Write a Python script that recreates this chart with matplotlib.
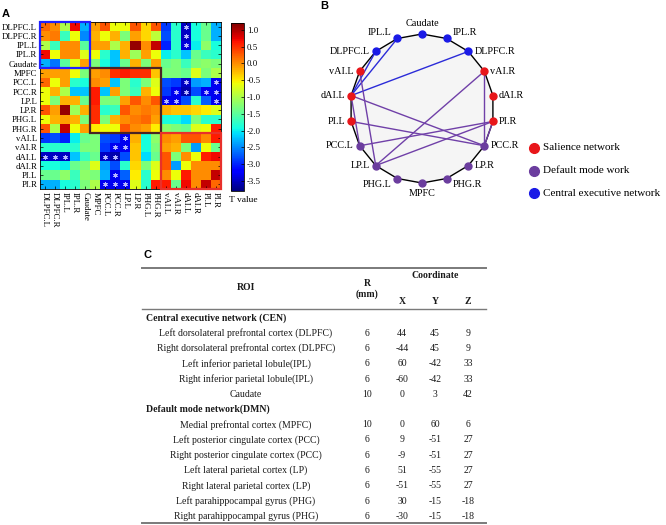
#!/usr/bin/env python3
"""
Rebuild of the three-panel ROI figure:
  A - T-value matrix between 18 ROIs (jet colormap, starred cells significant)
  B - circular graph of the significant connections
  C - table of ROI radius and MNI coordinates
Output: out.png (666x525)
"""

import numpy as np
import matplotlib.pyplot as plt
from matplotlib.patches import Rectangle, Polygon

W, H = 666, 525
SERIF = "Liberation Serif"
SANS = "Liberation Sans"

ROIS = [
    "DLPFC.L", "DLPFC.R", "IPL.L", "IPL.R", "Caudate",
    "MPFC", "PCC.L", "PCC.R", "LP.L", "LP.R", "PHG.L", "PHG.R",
    "vAI.L", "vAI.R", "dAI.L", "dAI.R", "PI.L", "PI.R",
]

T_VALUES = [
    [0.2, 0.0, -1.0, 0.7, -2.3, -0.1, 0.3, -0.6, -0.6, 0.3, -0.4, 0.3, -2.9, -1.8, -3.5, -1.9, -1.4, -2.3],
    [0.0, 0.1, -1.7, -0.6, -2.5, -0.2, -0.6, -0.2, -1.3, -0.1, -0.4, -0.9, -2.8, -1.8, -3.5, -1.9, -1.4, -2.3],
    [-1.0, -1.7, 0.0, 0.0, -1.5, -0.1, -0.1, -1.0, -0.2, 1.1, 0.0, 0.9, -3.0, -1.8, -3.4, -2.0, -1.2, -1.9],
    [0.7, -0.6, 0.0, 0.0, -0.7, -0.6, -1.8, -2.2, -0.2, -1.1, -0.1, -0.6, -2.0, -1.8, -2.2, -1.4, -1.7, -1.8],
    [-2.3, -2.6, -1.5, -0.7, -0.1, -1.3, -1.9, -2.2, -1.4, -0.2, -1.3, -0.1, -1.4, -1.3, -1.7, -1.3, -1.2, -1.3],
    [-0.1, -0.1, -0.1, -0.6, -1.3, -0.1, 0.0, 0.5, 0.6, 0.5, 0.5, -0.3, -1.3, -1.3, -1.4, -0.7, -1.3, -1.0],
    [0.2, -0.6, -0.1, -1.8, -1.9, 0.0, -0.1, -2.2, -1.3, -1.8, -1.3, -0.7, -2.8, -2.9, -3.5, -2.4, -2.3, -3.3],
    [-0.6, -0.2, -1.0, -2.2, -2.2, 0.6, -2.2, -0.1, -1.3, -1.7, -0.2, -0.6, -2.9, -3.3, -3.6, -2.8, -3.3, -3.3],
    [-0.6, -1.3, -0.2, -0.2, -1.4, 0.6, -1.3, -1.3, -0.1, 0.3, 0.0, 0.3, -3.3, -3.3, -2.8, -1.8, -2.7, -3.3],
    [0.3, -0.1, 1.1, -1.1, -0.2, 0.5, -1.8, -1.7, 0.3, 0.0, 0.1, 0.0, -0.2, -0.3, -0.3, -0.4, -0.5, -0.7],
    [-0.6, -0.2, -0.1, -0.2, -1.3, 0.5, -1.3, -0.2, 0.0, 0.1, 0.2, -0.1, -1.9, -1.9, -2.1, -1.3, -1.8, -1.8],
    [0.3, -1.0, 0.9, -0.6, -0.1, -0.5, -0.6, -0.6, 0.3, 0.0, -0.1, -0.5, -1.2, -1.3, -1.4, -0.7, -0.6, 0.6],
    [-2.9, -2.8, -3.0, -2.0, -1.4, -1.3, -2.8, -2.9, -3.3, -0.2, -1.9, -1.2, 0.0, -0.1, 0.3, 0.3, 0.0, 0.6],
    [-1.8, -1.8, -1.8, -1.8, -1.3, -1.3, -2.9, -3.3, -3.3, -0.3, -1.9, -1.3, -0.1, -0.2, -1.3, -2.4, -0.6, -1.4],
    [-3.5, -3.5, -3.5, -2.2, -1.7, -1.4, -3.5, -3.6, -2.8, -0.3, -2.1, -1.4, 0.3, -1.3, 0.0, -0.6, 0.6, 0.7],
    [-1.9, -1.9, -2.0, -1.4, -1.3, -0.7, -2.4, -2.8, -1.8, -0.4, -1.3, -0.7, 0.3, -2.4, -0.6, 0.0, 0.0, 0.0],
    [-1.4, -1.4, -1.2, -1.7, -1.2, -1.3, -2.3, -3.3, -2.7, -0.5, -1.8, -0.6, 0.0, -0.6, 0.6, 0.0, 0.0, 0.9],
    [-2.3, -2.3, -1.9, -1.8, -1.3, -1.0, -3.3, -3.3, -3.3, -0.7, -1.8, 0.6, 0.6, -1.4, 0.7, 0.0, 0.9, 0.2],
]

# significant connections (drawn as stars in A, edges in B)
SIG_PAIRS = [
    ("DLPFC.L", "dAI.L"), ("DLPFC.R", "dAI.L"), ("IPL.L", "dAI.L"),
    ("PCC.L", "dAI.L"), ("PCC.L", "PI.R"),
    ("PCC.R", "vAI.R"), ("PCC.R", "dAI.L"), ("PCC.R", "PI.L"), ("PCC.R", "PI.R"),
    ("LP.L", "vAI.L"), ("LP.L", "vAI.R"), ("LP.L", "PI.R"),
]

CB_TICKS = [1.0, 0.5, 0.0, -0.5, -1.0, -1.5, -2.0, -2.5, -3.0, -3.5]

CEN = ["DLPFC.L", "DLPFC.R", "IPL.L", "IPL.R", "Caudate"]
SALIENCE = ["vAI.L", "vAI.R", "dAI.L", "dAI.R", "PI.L", "PI.R"]

# clockwise from the top of the circle
CIRCLE_ORDER = [
    "Caudate", "IPL.R", "DLPFC.R", "vAI.R", "dAI.R", "PI.R", "PCC.R", "LP.R",
    "PHG.R", "MPFC", "PHG.L", "LP.L", "PCC.L", "PI.L", "dAI.L", "vAI.L",
    "DLPFC.L", "IPL.L",
]

LEGEND_NAMES = ["Salience network", "Default mode work", "Central executive network"]

# table C
GROUP_TITLES = ["Central executive network (CEN)", "Default mode network(DMN)"]
CEN_ROI = [
    "Left dorsolateral prefrontal cortex (DLPFC)",
    "Right dorsolateral prefrontal cortex (DLPFC)",
    "Left inferior parietal lobule(IPL)",
    "Right inferior parietal lobule(IPL)",
    "Caudate",
]
CEN_R = [6, 6, 6, 6, 10]
CEN_X = [44, -44, 60, -60, 0]
CEN_Y = [45, 45, -42, -42, 3]
CEN_Z = [9, 9, 33, 33, 42]
DMN_ROI = [
    "Medial prefrontal cortex (MPFC)",
    "Left posterior cingulate cortex (PCC)",
    "Right posterior cingulate cortex (PCC)",
    "Left lateral parietal cortex (LP)",
    "Right lateral parietal cortex (LP)",
    "Left parahippocampal gyrus (PHG)",
    "Right parahippocampal gyrus (PHG)",
]
DMN_R = [10, 6, 6, 6, 6, 6, 6]
DMN_X = [0, 9, -9, 51, -51, 30, -30]
DMN_Y = [60, -51, -51, -55, -55, -15, -15]
DMN_Z = [6, 27, 27, 27, 27, -18, -18]

RED = "#e8161a"
PURPLE = "#6b3d9e"
BLUE = "#1a1ae6"
EDGE_BLUE = "#2b2bd8"
EDGE_PURPLE = "#7040a8"


fig = plt.figure(figsize=(W / 100, H / 100), dpi=100)


def px_axes(x0, y0, x1, y1):
    return fig.add_axes([x0 / W, 1 - y1 / H, (x1 - x0) / W, (y1 - y0) / H])


def group_color(name):
    if name in CEN:
        return BLUE
    if name in SALIENCE:
        return RED
    return PURPLE


# ---------------- A: matrix ----------------
ax = px_axes(40, 22, 221, 189)
mat = np.array(T_VALUES)
im = ax.imshow(mat, cmap="jet", vmin=-3.8, vmax=1.2, aspect="auto", interpolation="nearest")
n = len(ROIS)
ax.set_xticks(range(n))
ax.set_yticks(range(n))
ax.set_xticklabels(ROIS, rotation=-90, fontsize=6.3, family=SERIF)
ax.set_yticklabels(ROIS, fontsize=6.3, family=SERIF)
ax.tick_params(length=2, width=0.5, direction="in", pad=2, top=True, right=True)
for s in ax.spines.values():
    s.set_linewidth(0.6)

blocks = [(0, 5, "#2020ff"), (5, 7, "#4a2424"), (12, 6, "#e8302a")]
for start, size, col in blocks:
    ax.add_patch(Rectangle((start - 0.5, start - 0.5), size, size, fill=False,
                           ec=col, lw=1.6, clip_on=False, zorder=3))

idx = {r: i for i, r in enumerate(ROIS)}
for a, b in SIG_PAIRS:
    for i, j in ((idx[a], idx[b]), (idx[b], idx[a])):
        ax.plot(j, i, marker=(6, 2, 0), ms=3.2, mew=0.7, color="#b8b8ff", zorder=4)

cax = px_axes(231, 23, 244, 191)
cb = fig.colorbar(im, cax=cax, ticks=CB_TICKS)
cb.set_ticklabels([f"{t:.1f}" for t in CB_TICKS])
cb.ax.tick_params(labelsize=6.3, length=2, width=0.5, direction="in", pad=2)
for lab in cb.ax.get_yticklabels():
    lab.set_family(SERIF)
cb.outline.set_linewidth(0.6)
fig.text(243 / W, 1 - 200 / H, "T value", ha="center", va="center", fontsize=6.8, family=SERIF)

# ---------------- B: circle graph ----------------
nax = px_axes(300, 0, 666, 260)
nax.set_xlim(300, 666)
nax.set_ylim(260, 0)
nax.axis("off")

CX, CY, RX, RY = 422, 108.5, 72, 74.5
ang = np.deg2rad(90 - 20 * np.arange(len(CIRCLE_ORDER)))
pos = {name: (CX + RX * np.cos(a), CY - RY * np.sin(a)) for name, a in zip(CIRCLE_ORDER, ang)}

pts = [pos[nm] for nm in CIRCLE_ORDER]
nax.add_patch(Polygon(pts, closed=True, fc="#f5f5f5", ec="black", lw=1.0, zorder=1))

for a, b in SIG_PAIRS:
    col = EDGE_BLUE if (a in CEN or b in CEN) else EDGE_PURPLE
    (x1, y1), (x2, y2) = pos[a], pos[b]
    nax.plot([x1, x2], [y1, y2], color=col, lw=1.0, zorder=2)

for nm, a in zip(CIRCLE_ORDER, ang):
    x, y = pos[nm]
    nax.plot(x, y, "o", ms=5, color=group_color(nm), zorder=3)
    c, s = np.cos(a), np.sin(a)
    if abs(c) < 0.1:
        ty = y - 10 if s > 0 else y + 10
        nax.text(x, ty, nm, ha="center", va="center", fontsize=7.3, family=SERIF)
    else:
        dy = -6 * s if abs(s) > 0.9 else 0
        nax.text(x + 6 * np.sign(c), y + dy, nm, ha="left" if c > 0 else "right",
                 va="center", fontsize=7.3, family=SERIF)

for k, (lab, col) in enumerate(zip(LEGEND_NAMES, [RED, PURPLE, BLUE])):
    ly = 148 + 22.5 * k
    nax.plot(534, ly, "o", ms=7, color=col)
    nax.text(543, ly, lab, ha="left", va="center", fontsize=8, family=SERIF)

# ---------------- C: table ----------------
tax = px_axes(0, 255, 666, 525)
tax.set_xlim(0, 666)
tax.set_ylim(525, 255)
tax.axis("off")

TXT = "#1a1a1a"
LINE = "#7a7a7a"
XL, XR = 142, 486
COL_R, COL_X, COL_Y, COL_Z, COL_ROI = 367, 402, 435, 468, 246

tax.plot([XL, XR], [268, 268], color=LINE, lw=1.4)
tax.plot([XL, XR], [309, 309], color=LINE, lw=1.0)
tax.plot([XL, XR], [523, 523], color=LINE, lw=1.4)

hdr = dict(fontsize=7, family=SERIF, weight="bold", color=TXT, va="center", ha="center")
tax.text(COL_ROI, 288, "ROI", **hdr)
tax.text(COL_R, 283, "R", **hdr)
tax.text(COL_R, 294, "(mm)", **hdr)
tax.text(COL_Y, 276, "Coordinate", **hdr)
for xx, lab in zip([COL_X, COL_Y, COL_Z], ["X", "Y", "Z"]):
    tax.text(xx, 302, lab, **hdr)

body = dict(fontsize=7, family=SERIF, color=TXT, va="center", ha="center")
row = 0
for title, names, rr, xs, ys, zs in [
    (GROUP_TITLES[0], CEN_ROI, CEN_R, CEN_X, CEN_Y, CEN_Z),
    (GROUP_TITLES[1], DMN_ROI, DMN_R, DMN_X, DMN_Y, DMN_Z),
]:
    y = 318 + 15.25 * row
    tax.text(146, y, title, fontsize=7, family=SERIF, weight="bold", color=TXT,
             va="center", ha="left")
    row += 1
    for nm, r, vx, vy, vz in zip(names, rr, xs, ys, zs):
        y = 318 + 15.25 * row
        tax.text(COL_ROI, y, nm, **body)
        tax.text(COL_R, y, str(r), **body)
        tax.text(COL_X, y, str(vx), **body)
        tax.text(COL_Y, y, str(vy), **body)
        tax.text(COL_Z, y, str(vz), **body)
        row += 1

# panel letters
for lab, x, y in [("A", 6, 14), ("B", 324, 6), ("C", 147, 255)]:
    fig.text(x / W, 1 - y / H, lab, ha="center", va="center", fontsize=8,
             family=SANS, weight="bold")

fig.savefig("out.png", dpi=100)
